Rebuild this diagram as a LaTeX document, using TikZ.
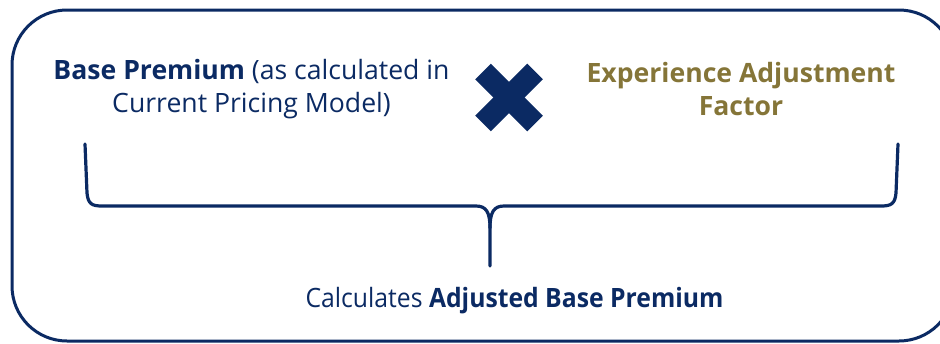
\documentclass[tikz,border=0pt]{standalone}
\usepackage{graphicx}
\usepackage{fontspec}
\setmainfont{Open Sans}
\definecolor{navy}{HTML}{0B2A63}
\definecolor{gold}{HTML}{857538}
\begin{document}
\begin{tikzpicture}[x=1pt,y=-1pt,
  frame/.style={draw=navy,line width=3pt,rounded corners=55pt},
  brace/.style={draw=navy,line width=3.2pt,line cap=round},
  label/.style={align=center,font=\fontsize{26.6}{33}\selectfont,inner sep=0pt},
  times/.style={draw=navy,line width=22pt}]
\useasboundingbox (0,0) rectangle (940,343);
% outer rounded frame, its right side runs past the page edge
\draw[frame] (12,10) rectangle (954,341);
% the two factors
\node[label,text=navy] (base) at (251.5,89)
  {\textbf{Base Premium} (as calculated in\\Current Pricing Model)};
\node[label,text=gold] (exp) at (741,89)
  {\textbf{Experience Adjustment}\\\textbf{Factor}};
% multiplication sign
\coordinate (mul) at (509,97.5);
\draw[times] ([shift={(-26,-26)}]mul) -- ([shift={(26,26)}]mul);
\draw[times] ([shift={(-26,26)}]mul) -- ([shift={(26,-26)}]mul);
% result, set slightly condensed
\node[label,text=navy] (result) at (514.5,301)
  {\scalebox{0.93}[1]{Calculates \textbf{Adjusted Base Premium}}};
% brace joining the factors to the result
\coordinate (bl) at (85,144);
\coordinate (br) at (898,144);
\coordinate (tip) at (490,266);
\draw[brace] (bl) -- (87,193) .. controls (88,204) and (92,206) .. (102,206)
  -- (476,206) .. controls (486,206) and (490,212) .. (490,228) -- (tip);
\draw[brace] (br) -- (896,193) .. controls (895,204) and (891,206) .. (881,206)
  -- (504,206) .. controls (494,206) and (490,212) .. (490,228);
\end{tikzpicture}
\end{document}
